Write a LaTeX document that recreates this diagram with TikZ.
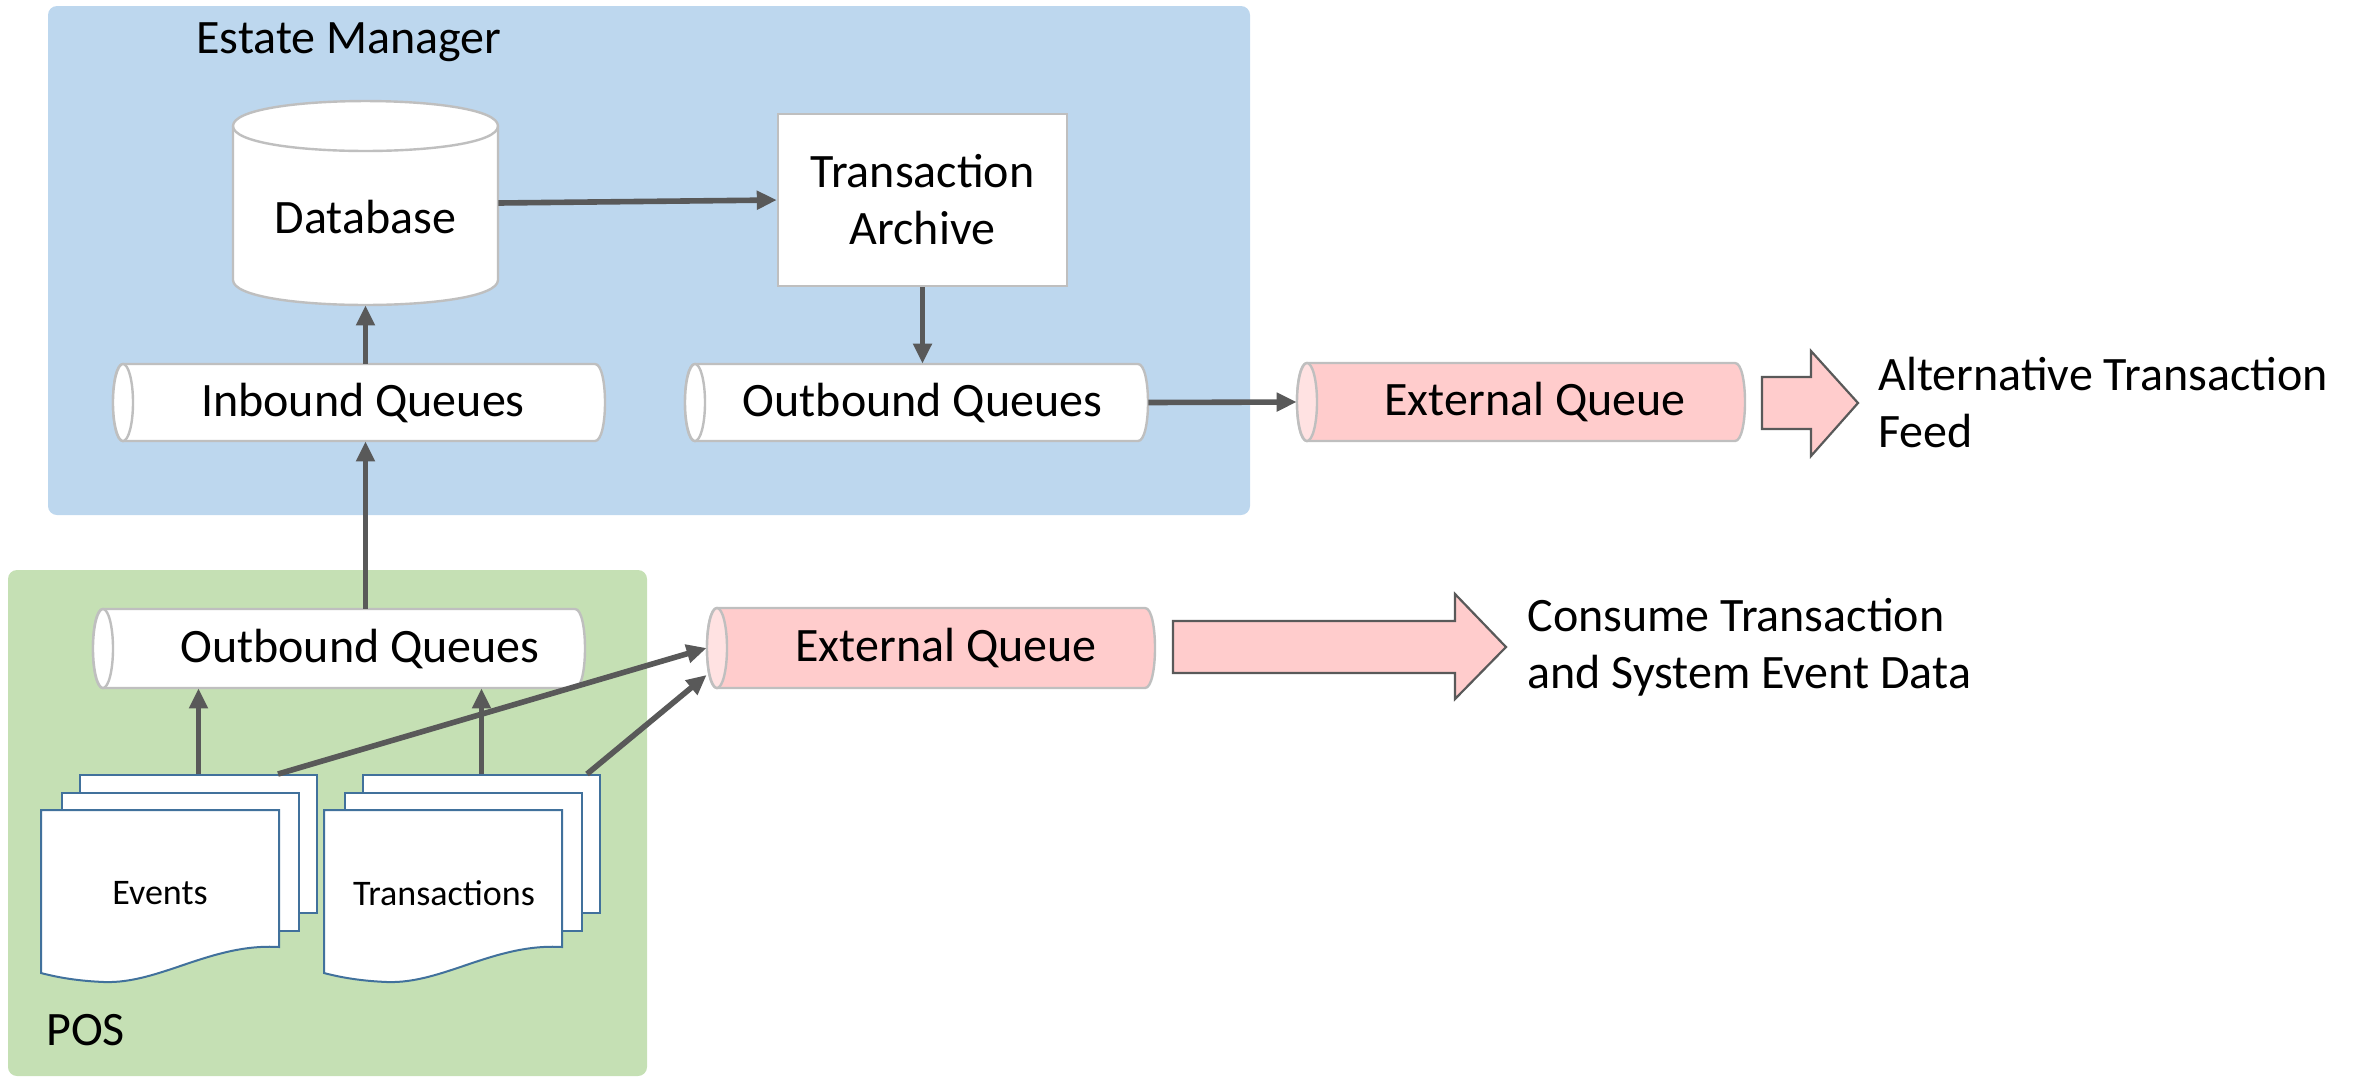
\documentclass[tikz,border=0pt]{standalone}
\usepackage{fontspec}
\setmainfont{Carlito}
\usetikzlibrary{arrows.meta}

\definecolor{emblue}{HTML}{BDD7EE}
\definecolor{posgreen}{HTML}{C5E0B4}
\definecolor{qpink}{HTML}{FFCCCC}
\definecolor{qpinkface}{HTML}{FFE2E2}
\definecolor{qgray}{HTML}{BFBFBF}
\definecolor{docblue}{HTML}{41719C}
\definecolor{flow}{HTML}{595959}

\tikzset{
  qline/.style={draw=qgray, line width=1.2pt},
  lbl/.style={font=\fontsize{24}{28.5}\selectfont, inner sep=0pt},
  qlbl/.style={font=\fontsize{24}{28.5}\selectfont, inner sep=0pt, anchor=center},
  doclbl/.style={font=\fontsize{18}{22}\selectfont, inner sep=0pt},
  flowarrow/.style={draw=flow, line width=2.8pt, -{Triangle[length=10pt,width=9pt]}},
  sheet/.style={draw=docblue, line width=1pt, fill=white, minimum width=118.5pt,
    minimum height=69pt, inner sep=0pt, anchor=north west},
  blockarrow/.style={draw=flow, line width=1.1pt, fill=qpink, line join=miter},
}

% horizontal queue: name, x1, y1, x2, y2, body fill, face fill, label shift, text
\newcommand\queue[9]{%
  \draw[qline, fill=#6] (#2+10,#3) -- (#4-10,#3)
     .. controls (#4+3.33,#3) and (#4+3.33,#5) .. (#4-10,#5)
     -- (#2+10,#5)
     .. controls (#2-3.33,#5) and (#2-3.33,#3) .. (#2+10,#3) -- cycle;
  \draw[qline, fill=#7] ({#2+10},{(#3+#5)/2}) ellipse [x radius=10, y radius={(#5-#3)/2}];
  \node[minimum width={(#4-#2)*0.5pt}, minimum height={(#5-#3)*0.5pt}, inner sep=0pt,
        label={[qlbl, xshift=#8]center:#9}] (#1) at ({(#2+#4)/2},{(#3+#5)/2}) {};
}

% stack of three sheets: name prefix, x offset, text x, text
\newcommand\docstack[4]{%
  \node[sheet] (#1back) at (#2+79,774) {};
  \node[sheet] (#1mid) at (#2+61,792) {};
  \draw[draw=docblue, line width=1pt, fill=white]
    (#2+41,810) -- (#2+279,810) -- (#2+279,947)
    .. controls (#2+211,943) and (#2+160,984) .. (#2+104,982)
    .. controls (#2+80,981) and (#2+60,978) .. (#2+41,973) -- cycle;
  \node[doclbl] (#1) at (#3,893) {#4};
}

\begin{document}
\begin{tikzpicture}[x=0.5pt, y=-0.5pt]
\useasboundingbox (0,0) rectangle (2359,1078);

% group frames
\fill[emblue, rounded corners=4.5pt] (48,6) rectangle (1250,515);
\fill[posgreen, rounded corners=4.5pt] (8,570) rectangle (647,1076);
\node[lbl, anchor=west] (emtitle) at (196,42) {Estate Manager};
\node[lbl, anchor=west] (postitle) at (46,1030) {POS};

% database cylinder
\draw[qline, fill=white] (233,126) -- (233,280)
   .. controls (233,313.3) and (498,313.3) .. (498,280) -- (498,126)
   .. controls (498,92.7) and (233,92.7) .. (233,126) -- cycle;
\draw[qline] (233,126) .. controls (233,159.3) and (498,159.3) .. (498,126);
\node[minimum width=132.5pt, minimum height=102pt, inner sep=0pt,
      label={[qlbl, yshift=-7pt]center:Database}] (db) at (365.5,203) {};

% transaction archive
\node[draw=qgray, line width=1.2pt, fill=white, minimum width=144.5pt,
      minimum height=86pt, lbl, align=center] (ta) at (922.5,200) {Transaction\\Archive};

% queues
\queue{inq}{113}{364}{605}{441}{white}{white}{2pt}{Inbound Queues}
\queue{oq}{685}{364}{1148}{441}{white}{white}{3pt}{Outbound Queues}
\queue{ext}{1297}{363}{1745}{441}{qpink}{qpinkface}{7pt}{External Queue}
\queue{pout}{93}{609}{585}{688}{white}{white}{10.5pt}{Outbound Queues}
\queue{extb}{707}{608}{1155}{688}{qpink}{qpinkface}{7.5pt}{External Queue}

% documents
\docstack{ev}{0}{160}{Events}
\docstack{tr}{283}{444}{Transactions}

% flows
\draw[flowarrow] (db.east) -- (ta.west);
\draw[flowarrow] (db.south |- inq.north) -- (db.south);
\draw[flowarrow] (ta.south) -- (ta.south |- oq.north);
\draw[flowarrow] (oq.east) -- (ext.west);
\draw[flowarrow] (db.south |- pout.north) -- (db.south |- inq.south);
\draw[flowarrow] (evback.north) -- (evback.north |- pout.south);
\draw[flowarrow] (trback.north) -- (trback.north |- pout.south);
\draw[flowarrow] ([xshift=-20pt]evback.north east) -- (extb.west);
\draw[flowarrow] ([xshift=-7pt]trback.north east) -- ([yshift=-13.5pt]extb.west);

% outgoing feeds
\draw[blockarrow] (1762,377) -- (1811,377) -- (1811,351) -- (1858,403)
   -- (1811,456) -- (1811,429) -- (1762,429) -- cycle;
\draw[blockarrow] (1173,621) -- (1455,621) -- (1455,594) -- (1506,647)
   -- (1455,699) -- (1455,673) -- (1173,673) -- cycle;
\node[lbl, anchor=west, align=left] (alt) at (1878,402) {Alternative Transaction\\Feed};
\node[lbl, anchor=west, align=left] (cons) at (1527,647) {Consume Transaction\\and System Event Data};
\end{tikzpicture}
\end{document}
